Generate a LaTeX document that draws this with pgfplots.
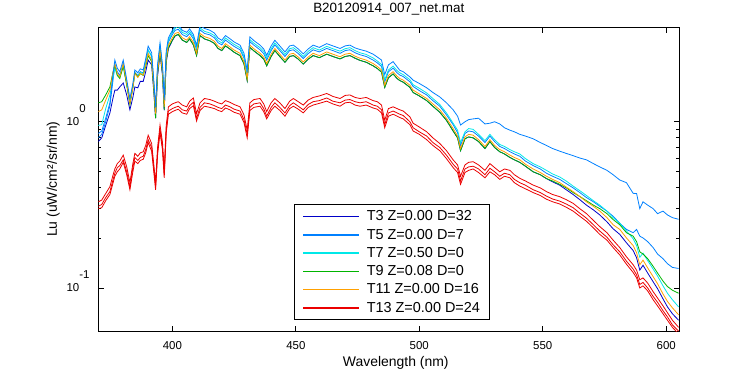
\documentclass[border=0pt]{standalone}
\usepackage{pgfplots}
\usepackage{pgfplotstable}
\pgfplotsset{compat=1.18}
\usepackage{fontspec}
\setmainfont{Liberation Sans}
\definecolor{cT3}{RGB}{0,0,200}
\definecolor{cT5}{RGB}{0,128,255}
\definecolor{cT7}{RGB}{0,232,232}
\definecolor{cT9}{RGB}{0,180,0}
\definecolor{cT11}{RGB}{255,160,0}
\definecolor{cT13}{RGB}{235,0,0}
\pgfplotstableread{
x t3 t5a t5b t7 t9 t11 t13a t13b t13c
370 0.76 0.85 0.80 0.95 1.30 1.15 0.33 0.31 0.30
371.4 0.80 0.88 0.84 0.96 1.32 1.18 0.338 0.318 0.304
373 0.95 1.05 1.00 1.20 1.45 1.35 0.37 0.35 0.335
374.7 1.13 1.30 1.25 1.45 1.62 1.55 0.407 0.38 0.365
376 1.40 1.95 1.80 1.85 2.00 2.00 0.48 0.45 0.43
376.7 1.55 2.35 2.20 2.10 2.20 2.24 0.52 0.49 0.47
377.7 1.55 2.10 2.00 1.90 1.90 1.95 0.56 0.53 0.50
378.7 1.62 2.00 1.90 1.85 1.82 1.86 0.58 0.545 0.52
380.1 1.71 2.35 2.25 2.20 2.15 2.24 0.63 0.59 0.57
381.5 1.45 1.80 1.72 1.68 1.66 1.70 0.536 0.50 0.48
382.8 1.18 1.38 1.32 1.30 1.27 1.29 0.43 0.405 0.39
384 1.40 1.70 1.64 1.62 1.60 1.60 0.56 0.53 0.50
384.8 1.62 2.05 1.98 1.95 1.97 1.95 0.645 0.61 0.58
386 1.60 1.97 1.90 1.88 1.86 1.85 0.62 0.585 0.56
387 1.75 2.08 2.00 1.98 1.95 1.95 0.65 0.61 0.585
388.2 1.75 2.05 1.97 1.95 1.90 1.91 0.66 0.62 0.595
389.2 2.00 2.40 2.30 2.28 2.15 2.20 0.72 0.68 0.65
390.2 2.35 2.85 2.70 2.70 2.50 2.58 0.83 0.78 0.75
391.6 2.20 2.60 2.48 2.48 2.30 2.35 0.74 0.70 0.665
392.5 1.50 1.75 1.68 1.70 1.55 1.60 0.55 0.52 0.495
393.2 1.05 1.22 1.16 1.18 1.05 1.12 0.43 0.405 0.39
394 1.88 2.20 2.10 2.12 1.95 2.00 0.70 0.66 0.63
395 2.55 2.98 2.82 2.88 2.62 2.70 0.955 0.90 0.86
396 1.90 2.20 2.10 2.12 1.95 2.00 0.75 0.705 0.675
396.7 1.17 1.35 1.28 1.30 1.18 1.23 0.51 0.48 0.46
397.5 2.28 2.65 2.50 2.55 2.33 2.40 0.95 0.89 0.855
398.4 2.75 3.20 3.02 3.10 2.80 2.89 1.23 1.16 1.11
400 3.08 3.55 3.35 3.45 3.10 3.20 1.28 1.20 1.15
401.1 3.28 3.75 3.55 3.65 3.30 3.40 1.30 1.22 1.17
402.4 3.35 3.85 3.60 3.75 3.35 3.45 1.32 1.24 1.19
404 3.10 3.55 3.35 3.45 3.10 3.20 1.26 1.18 1.13
405.8 3.00 3.45 3.25 3.35 3.00 3.10 1.23 1.16 1.11
407 3.15 3.62 3.40 3.50 3.15 3.25 1.33 1.25 1.20
408.5 2.90 3.35 3.15 3.24 2.90 3.00 1.39 1.31 1.25
409.8 2.50 2.88 2.70 2.78 2.50 2.58 1.12 1.05 1.01
411.2 3.30 3.80 3.57 3.67 3.30 3.40 1.30 1.22 1.17
413 3.15 3.64 3.40 3.50 3.15 3.25 1.38 1.30 1.24
415.2 3.07 3.55 3.33 3.42 3.07 3.17 1.36 1.28 1.22
417 2.96 3.42 3.20 3.30 2.96 3.05 1.33 1.25 1.20
418.5 2.76 3.19 2.99 3.08 2.76 2.85 1.30 1.22 1.17
420 2.68 3.09 2.90 2.98 2.68 2.76 1.28 1.20 1.15
421.5 2.86 3.30 3.10 3.19 2.86 2.95 1.34 1.26 1.21
423.3 2.74 3.16 2.96 3.05 2.74 2.82 1.31 1.23 1.18
425 2.62 3.02 2.84 2.92 2.62 2.70 1.27 1.19 1.14
427.4 2.50 2.89 2.71 2.79 2.50 2.58 1.23 1.16 1.11
429 2.23 2.58 2.42 2.48 2.23 2.30 1.10 1.03 0.99
430.3 1.77 2.04 1.91 1.97 1.77 1.82 0.89 0.84 0.80
431.4 2.80 3.24 3.03 3.12 2.80 2.89 1.30 1.22 1.17
433 2.67 3.08 2.89 2.97 2.67 2.75 1.36 1.28 1.22
435.5 2.50 2.89 2.71 2.79 2.50 2.58 1.38 1.30 1.24
437 2.38 2.74 2.57 2.65 2.38 2.45 1.28 1.20 1.15
438.2 2.17 2.51 2.35 2.42 2.17 2.24 1.15 1.08 1.04
440 2.47 2.86 2.68 2.75 2.47 2.55 1.30 1.22 1.17
441.5 2.68 3.09 2.90 2.98 2.68 2.76 1.38 1.30 1.24
443.5 2.47 2.86 2.68 2.75 2.47 2.55 1.30 1.22 1.17
445.6 2.28 2.63 2.47 2.54 2.28 2.35 1.20 1.13 1.08
447.5 2.47 2.86 2.68 2.75 2.47 2.55 1.33 1.25 1.20
449 2.50 2.89 2.71 2.79 2.50 2.58 1.38 1.30 1.24
451 2.38 2.74 2.57 2.65 2.38 2.45 1.32 1.24 1.19
453 2.22 2.56 2.40 2.47 2.22 2.29 1.26 1.18 1.13
455 2.38 2.74 2.57 2.65 2.38 2.45 1.35 1.27 1.22
457 2.50 2.89 2.71 2.79 2.50 2.58 1.40 1.32 1.26
459.5 2.43 2.80 2.63 2.70 2.43 2.50 1.43 1.34 1.29
462.5 2.55 2.95 2.76 2.84 2.55 2.63 1.48 1.39 1.33
465 2.47 2.86 2.68 2.75 2.47 2.55 1.42 1.33 1.28
467.9 2.39 2.76 2.58 2.66 2.39 2.46 1.38 1.30 1.24
470 2.47 2.86 2.68 2.75 2.47 2.55 1.44 1.35 1.30
471.9 2.50 2.89 2.71 2.79 2.50 2.58 1.45 1.36 1.31
474 2.41 2.78 2.60 2.68 2.41 2.48 1.40 1.32 1.26
476 2.34 2.72 2.53 2.60 2.34 2.41 1.38 1.30 1.24
478.5 2.28 2.66 2.47 2.54 2.28 2.35 1.40 1.32 1.26
481.3 2.17 2.55 2.35 2.42 2.17 2.24 1.34 1.26 1.21
483 2.09 2.45 2.26 2.32 2.09 2.15 1.32 1.24 1.19
484.7 1.99 2.35 2.15 2.21 1.99 2.05 1.26 1.18 1.13
486 1.61 1.92 1.74 1.79 1.61 1.66 1.02 0.96 0.92
487.5 1.84 2.20 2.00 2.05 1.84 1.90 1.20 1.13 1.08
489.4 1.94 2.30 2.10 2.16 1.94 2.00 1.23 1.16 1.11
491 1.82 2.14 1.97 2.03 1.82 1.88 1.20 1.13 1.08
492.1 1.77 2.04 1.91 1.97 1.77 1.82 1.18 1.11 1.06
493.5 1.73 2.00 1.87 1.92 1.73 1.78 1.16 1.09 1.04
496.2 1.61 1.86 1.74 1.79 1.61 1.66 1.07 1.00 0.96
497.5 1.50 1.78 1.63 1.67 1.50 1.55 0.98 0.92 0.88
500 1.43 1.70 1.54 1.59 1.43 1.47 0.93 0.87 0.84
503 1.34 1.60 1.45 1.49 1.34 1.38 0.87 0.82 0.78
505.5 1.24 1.50 1.34 1.38 1.24 1.28 0.80 0.75 0.72
508.3 1.14 1.41 1.24 1.27 1.14 1.18 0.74 0.70 0.67
511 1.02 1.30 1.10 1.13 1.02 1.05 0.67 0.63 0.60
513.7 0.88 1.18 0.96 0.98 0.88 0.91 0.59 0.555 0.53
515.5 0.80 1.08 0.86 0.89 0.80 0.82 0.55 0.52 0.495
516.7 0.67 0.955 0.72 0.75 0.67 0.69 0.47 0.44 0.42
518.5 0.79 1.00 0.85 0.87 0.79 0.81 0.55 0.52 0.495
520 0.81 1.03 0.88 0.91 0.81 0.84 0.57 0.535 0.51
521.8 0.80 1.04 0.87 0.90 0.80 0.83 0.575 0.54 0.52
524 0.76 1.05 0.82 0.84 0.76 0.78 0.55 0.52 0.495
526.6 0.69 0.97 0.75 0.77 0.69 0.71 0.51 0.48 0.46
528.6 0.76 0.98 0.82 0.84 0.76 0.78 0.56 0.525 0.50
530.5 0.70 1.00 0.76 0.78 0.70 0.72 0.53 0.50 0.48
532.6 0.66 0.97 0.71 0.73 0.66 0.68 0.50 0.47 0.45
534.5 0.64 0.92 0.69 0.71 0.64 0.66 0.52 0.49 0.47
536.7 0.61 0.89 0.66 0.68 0.61 0.63 0.51 0.48 0.46
538.5 0.59 0.87 0.64 0.66 0.59 0.61 0.48 0.45 0.43
540.7 0.57 0.84 0.62 0.64 0.57 0.59 0.457 0.43 0.41
543 0.54 0.82 0.58 0.60 0.54 0.555 0.44 0.415 0.395
546.1 0.50 0.79 0.545 0.56 0.50 0.52 0.416 0.39 0.375
549 0.48 0.75 0.52 0.535 0.48 0.495 0.40 0.375 0.36
551.5 0.455 0.72 0.49 0.51 0.455 0.47 0.38 0.357 0.342
554 0.435 0.69 0.47 0.485 0.44 0.45 0.365 0.343 0.33
556.9 0.415 0.665 0.45 0.465 0.42 0.43 0.354 0.333 0.32
559.5 0.39 0.645 0.425 0.44 0.40 0.405 0.34 0.32 0.306
562.3 0.365 0.625 0.40 0.41 0.375 0.38 0.323 0.304 0.29
565 0.34 0.605 0.375 0.385 0.355 0.355 0.30 0.282 0.27
567.7 0.315 0.59 0.35 0.36 0.335 0.33 0.28 0.263 0.252
570.5 0.295 0.56 0.33 0.335 0.315 0.31 0.255 0.24 0.23
573.1 0.275 0.535 0.31 0.315 0.30 0.29 0.234 0.22 0.21
576 0.25 0.51 0.29 0.29 0.28 0.265 0.215 0.202 0.194
578.5 0.227 0.48 0.27 0.265 0.258 0.24 0.194 0.182 0.175
581.2 0.21 0.446 0.245 0.245 0.24 0.225 0.175 0.165 0.158
583.9 0.187 0.43 0.225 0.22 0.215 0.20 0.154 0.145 0.139
586.6 0.168 0.371 0.215 0.198 0.205 0.18 0.138 0.13 0.124
588 0.152 0.37 0.225 0.18 0.19 0.163 0.128 0.12 0.115
589.3 0.128 0.30 0.205 0.153 0.165 0.138 0.112 0.105 0.10
590.6 0.137 0.33 0.20 0.162 0.16 0.147 0.115 0.108 0.103
592.5 0.123 0.315 0.19 0.146 0.15 0.132 0.107 0.10 0.096
594.7 0.109 0.30 0.175 0.13 0.135 0.117 0.095 0.089 0.085
596.5 0.099 0.28 0.16 0.118 0.123 0.106 0.087 0.082 0.078
598.7 0.086 0.29 0.15 0.103 0.11 0.092 0.078 0.073 0.070
600.5 0.077 0.275 0.14 0.093 0.102 0.083 0.071 0.067 0.064
602.5 0.07 0.265 0.133 0.085 0.097 0.076 0.064 0.06 0.058
605 0.064 0.259 0.131 0.077 0.093 0.069 0.058 0.055 0.053
}\spec
\begin{document}
\begin{tikzpicture}
\useasboundingbox (-98.3bp,-44bp) rectangle (651.7bp,331bp);
\begin{axis}[
  at={(0,0)}, anchor=south west,
  scale only axis, width=581bp, height=303.7bp,
  ymode=log,
  xmin=370, xmax=605.3, ymin=0.0551, ymax=3.70,
  xtick={400,450,500,550,600},
  xticklabels={400,450,500,550,600},
  ytick={0.1,1},
  yticklabels={{\llap{10}\rlap{\raisebox{12.7bp}{-1}}},{\llap{10}\rlap{\raisebox{12.7bp}{0}}}},
  tick align=inside,
  major tick length=5.5bp, minor tick length=3bp,
  axis line style={line width=0.8bp},
  every tick/.style={black, line width=0.8bp},
  xticklabel style={font=\fontsize{11.5}{11.5}\selectfont, anchor=base, inner sep=0pt, yshift=-18bp},
  yticklabel style={font=\fontsize{11.5}{11.5}\selectfont, anchor=base east, inner sep=0pt, xshift=-18.3bp, yshift=-3.3bp},
  title={B20120914\_007\_net.mat},
  title style={font=\fontsize{13.5}{13.5}\selectfont, at={(axis description cs:0.5,1)}, anchor=base, yshift=8.8bp, inner sep=0pt},
  xlabel={Wavelength (nm)},
  xlabel style={font=\fontsize{14}{14}\selectfont, at={(axis description cs:0.512,0)}, anchor=base, yshift=-35bp, inner sep=0pt},
  ylabel={Lu (uW/cm²/sr/nm)},
  ylabel style={font=\fontsize{14}{14}\selectfont, at={(axis description cs:-0.0711,0.5)}, anchor=base, inner sep=0pt},
  legend style={at={(axis description cs:0.3368,0.036)}, anchor=south west,
    draw=black, line width=0.8bp, fill=white,
    font=\fontsize{14.5}{14.5}\selectfont,
    inner xsep=8bp, inner ysep=4bp, row sep=2.7bp, column sep=6bp,
    nodes={inner xsep=1pt}},
  legend cell align=left,
  legend image code/.code={\draw[mark repeat=2,mark phase=2,#1,line width=1.4bp] plot coordinates {(0bp,0bp) (28bp,0bp) (56bp,0bp)};},
  every axis plot/.append style={line width=0.8bp},
]
\addplot[color=cT3] table[x=x,y=t3] {\spec};
\addlegendentry{T3 Z=0.00 D=32}
\addplot[color=cT5] table[x=x,y=t5b] {\spec};
\addlegendentry{T5 Z=0.00 D=7}
\addplot[color=cT7] table[x=x,y=t7] {\spec};
\addlegendentry{T7 Z=0.50 D=0}
\addplot[color=cT9] table[x=x,y=t9] {\spec};
\addlegendentry{T9 Z=0.08 D=0}
\addplot[color=cT11] table[x=x,y=t11] {\spec};
\addlegendentry{T11 Z=0.00 D=16}
\addplot[color=cT13] table[x=x,y=t13a] {\spec};
\addlegendentry{T13 Z=0.00 D=24}
\addplot[color=cT5, forget plot] table[x=x,y=t5a] {\spec};
\addplot[color=cT13, forget plot] table[x=x,y=t13b] {\spec};
\addplot[color=cT13, forget plot] table[x=x,y=t13c] {\spec};
\end{axis}
\end{tikzpicture}
\end{document}
